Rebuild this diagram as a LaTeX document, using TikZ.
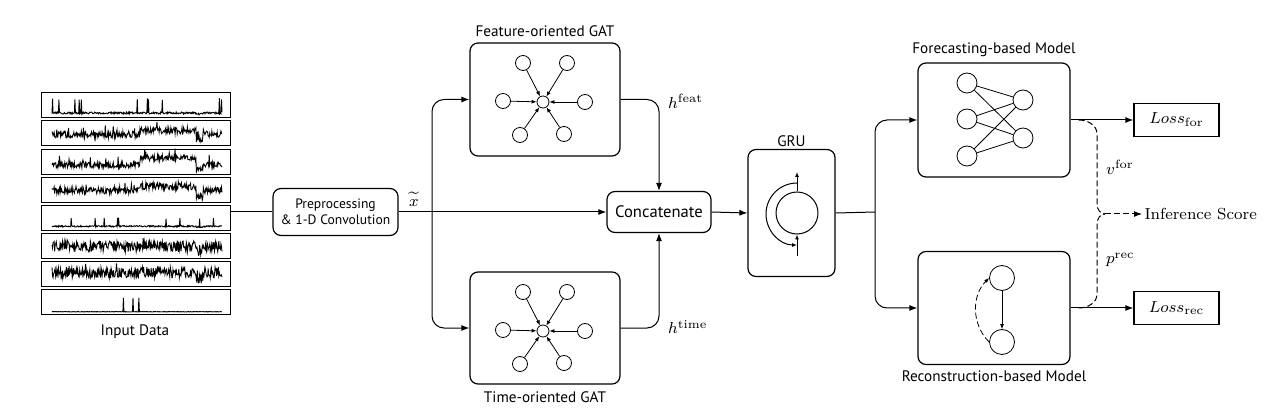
\documentclass[tikz,border=0pt]{standalone}
\usepackage{fontspec}
\newfontfamily\labelfont{PT Sans}
\usetikzlibrary{arrows.meta,calc}

\begin{document}
\begin{tikzpicture}
[
    x=0.5pt, y=-0.5pt,
    line width=0.5pt,
    arr/.style={-{Latex[length=4pt,width=3pt]}},
    smallarr/.style={-{Latex[length=2.5pt,width=2pt]}},
    block/.style={draw, line width=0.6pt, rounded corners=4pt, inner sep=0pt, align=center},
    lossbox/.style={draw, line width=0.6pt, minimum width=42.5pt, minimum height=16.5pt, font=\footnotesize},
    caption/.style={font=\labelfont\fontsize{7.6}{8.6}\selectfont},
    gnode/.style={draw, circle, inner sep=0pt, minimum size=7.5pt, line width=0.4pt},
    dashline/.style={dash pattern=on 3pt off 1.5pt}
]
    \useasboundingbox (0,0) rectangle (1271,417);

    % input data
    \pgfmathsetseed{7}
    \foreach \sTop/\sBase/\sAmp/\sProb/\sSpike/\sShift in {93/1/2/0.96/14/0, 121/5/7/0.96/6/4, 150/4/6/0.96/8/7,
        178/6/7/0.97/5/4, 206/1/1.5/0.97/8/0, 234/4/11/0.98/3/0, 262/6/11/0.98/4/0, 290/0/0.5/0.995/14/0}
    {
        \draw (41,\sTop) rectangle (230,\sTop+25);
        \draw[line width=0.45pt] plot[domain=52:222, samples=320]
            (\x, {\sTop+22-\sBase-\sAmp*rnd-(rnd>\sProb)*\sSpike-(\x>140)*(\x<196)*\sShift+(\x>196)*(\x<203)*\sBase});
    }
    \node[caption] (inlabel) at (135,332) {Input Data};
    \coordinate (input) at (231,212);

    % blocks
    \node[block, minimum width=62.5pt, minimum height=23.5pt, font=\labelfont\fontsize{6.8}{7.8}\selectfont]
        (prep) at (335.5,212) {Preprocessing\\ \& 1-D Convolution};
    \node[block, minimum width=75pt, minimum height=56.5pt] (feat) at (545,99.5) {};
    \node[block, minimum width=75pt, minimum height=56pt] (time) at (545,328) {};
    \node[block, minimum width=52pt, minimum height=20.5pt, font=\labelfont\fontsize{8.3}{9.3}\selectfont]
        (concat) at (659,212) {Concatenate};
    \node[block, minimum width=43.5pt, minimum height=63.5pt] (gru) at (791.5,213) {};
    \node[block, minimum width=76pt, minimum height=57pt] (fore) at (994,120) {};
    \node[block, minimum width=76pt, minimum height=56.5pt] (recon) at (994,308) {};
    \node[lossbox] (lossfor) at (1176.5,120) {$Loss_{\mathrm{for}}$};
    \node[lossbox] (lossrec) at (1176.5,308) {$Loss_{\mathrm{rec}}$};
    \node[anchor=west, font=\footnotesize, inner sep=1pt] (infer) at (1142,214) {Inference Score};

    \node[caption] (featlabel) at (545,31) {Feature-oriented GAT};
    \node[caption] (timelabel) at (545,397) {Time-oriented GAT};
    \node[caption] (grulabel) at (791.5,141) {GRU};
    \node[caption] (forelabel) at (994,50) {Forecasting-based Model};
    \node[caption] (reconlabel) at (994,376) {Reconstruction-based Model};

    % GAT graphs
    \begin{scope}[shift={(543,102)}]
        \node[gnode, minimum size=6pt] (fc) at (0,0) {};
        \foreach \dx/\dy [count=\i] in {-20/-39, 24/-39, -40/-1, 42/0, -23/33, 21/32}
        {
            \node[gnode] (fo\i) at (\dx,\dy) {};
            \draw[smallarr, line width=0.4pt] (fo\i) -- (fc);
        }
    \end{scope}
    \begin{scope}[shift={(543,331)}]
        \node[gnode, minimum size=6pt] (tc) at (0,0) {};
        \foreach \dx/\dy [count=\i] in {-20/-39, 24/-39, -40/-1, 42/0, -23/33, 21/32}
        {
            \node[gnode] (to\i) at (\dx,\dy) {};
            \draw[smallarr, line width=0.4pt] (to\i) -- (tc);
        }
    \end{scope}

    % GRU cell
    \node[draw, circle, minimum size=21pt, inner sep=0pt] (cell) at (797,213) {};
    \draw[smallarr] (797,183) arc[start angle=90, end angle=270, radius=15.5pt];
    \draw[smallarr] (cell.north) -- (797,172);
    \draw[smallarr] (797,256) -- (cell.south);

    % forecasting net
    \foreach \i/\y in {1/83, 2/119, 3/156}
        \node[gnode, minimum size=10pt] (in\i) at (967,\y) {};
    \foreach \j/\y in {1/100, 2/138}
        \node[gnode, minimum size=10pt] (out\j) at (1023,\y) {};
    \foreach \i in {1,2,3}
        \foreach \j in {1,2}
            \draw[line width=0.4pt] (in\i) -- (out\j);

    % reconstruction net
    \node[gnode, minimum size=12.5pt] (r1) at (1002,278) {};
    \node[gnode, minimum size=12.5pt] (r2) at (1002,342) {};
    \draw[smallarr, line width=0.4pt] (r1) -- (r2);
    \draw[smallarr, dashline, line width=0.4pt] (r2.west) to[bend left=45] (r1.west);

    % connectors
    \coordinate (split) at (432,212);
    \coordinate (fork) at (875,212);
    \coordinate (brace) at (1105,214);
    \draw (input) -- (prep.west);
    \draw[arr] (prep.east) -- (concat.west);
    \draw[arr, rounded corners=6pt] (split) |- (feat.west);
    \draw[arr, rounded corners=6pt] (split) |- (time.west);
    \draw[arr, rounded corners=6pt] (feat.east) -| (concat.north);
    \draw[arr, rounded corners=6pt] (time.east) -| (concat.south);
    \draw[arr] (concat.east) -- (gru.west);
    \draw (gru.east) -- (fork);
    \draw[arr, rounded corners=6pt] (fork) |- (fore.west);
    \draw[arr, rounded corners=6pt] (fork) |- (recon.west);
    \draw[arr] (fore.east) -- (lossfor.west);
    \draw[arr] (recon.east) -- (lossrec.west);
    \draw[dashline] ($(fore.east)+(8,0)$) to[out=0, in=90] (1097,134) -- (1097,204) to[out=-90, in=180] (brace);
    \draw[dashline] ($(recon.east)+(8,0)$) to[out=0, in=-90] (1097,294) -- (1097,224) to[out=90, in=180] (brace);
    \draw[arr, dashline] (brace) -- (infer.west);

    % labels
    \node[inner sep=0pt] (xlabel) at (414,199) {\footnotesize$\widetilde{x}$};
    \node[anchor=west] (hfeat) at (661,101) {\footnotesize$h^{\mathrm{feat}}$};
    \node[anchor=west] (htime) at (661,327) {\footnotesize$h^{\mathrm{time}}$};
    \node[anchor=west] (vfor) at (1099,167) {\footnotesize$v^{\mathrm{for}}$};
    \node[anchor=west] (prec) at (1099,260) {\footnotesize$p^{\mathrm{rec}}$};
\end{tikzpicture}
\end{document}
